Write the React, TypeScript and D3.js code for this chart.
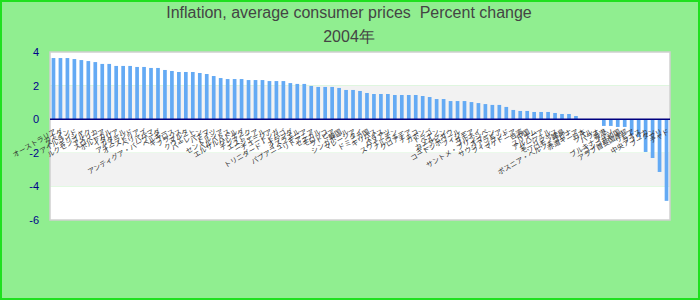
import React from "react";
import * as d3 from "d3";

const titleLine1 = "Inflation, average consumer prices  Percent change";
const titleLine2 = "2004年";

const categories: string[] = [
  "オーストラリア", "カナダ", "スペイン", "アイルランド", "ギリシャ", "ルクセンブルク", "アメリカ", "スロベニア", "ポルトガル", "イタリア",
  "カタール", "アイスランド", "オーストリア", "ベリーズ", "バハマ", "アンティグア・バーブーダ", "ベルギー", "キプロス", "フランス", "マルタ",
  "クウェート", "バーレーン", "パナマ", "ドイツ", "セントルシア", "バルバドス", "エルサルバドル", "グレナダ", "デンマーク", "エストニア",
  "ニジェール", "チュニジア", "トンガ", "トリニダード・トバゴ", "オランダ", "イスラエル", "パプアニューギニア", "リトアニア", "セネガル", "モロッコ",
  "ラトビア", "韓国", "シンガポール", "マレーシア", "タイ", "ドミニカ国", "キリバス", "スイス", "バヌアツ", "スウェーデン",
  "ノルウェー", "クロアチア", "チェコ", "ガボン", "トーゴ", "ベナン", "カメルーン", "ギニアビサウ", "コートジボワール", "フィジー",
  "サモア", "ブルネイ", "サントメ・プリンシペ", "オマーン", "サウジアラビア", "フィンランド", "マケドニア", "台湾", "中国", "スリナム",
  "アルバニア", "セーシェル", "モーリシャス", "ソロモン諸島", "ボスニア・ヘルツェゴビナ", "赤道ギニア", "日本", "ツバル", "パラオ", "香港",
  "ブルキナファソ", "コンゴ共和国", "アラブ首長国連邦", "リビア", "ラオス", "中央アフリカ", "ブータン", "マリ", "チャド",
];

const values: number[] = [
  3.64, 3.64, 3.64, 3.58, 3.52, 3.46, 3.4, 3.29, 3.29, 3.17,
  3.17, 3.17, 3.11, 3.11, 3.05, 3.05, 2.93, 2.87, 2.81, 2.81,
  2.81, 2.75, 2.69, 2.57, 2.45, 2.39, 2.39, 2.39, 2.33, 2.33,
  2.33, 2.27, 2.27, 2.27, 2.15, 2.1, 2.1, 1.98, 1.92, 1.92,
  1.92, 1.86, 1.74, 1.74, 1.68, 1.56, 1.5, 1.5, 1.5, 1.44,
  1.44, 1.44, 1.44, 1.38, 1.32, 1.2, 1.2, 1.08, 1.08, 1.08,
  1.02, 0.96, 0.9, 0.85, 0.85, 0.73, 0.55, 0.49, 0.49, 0.43,
  0.43, 0.43, 0.37, 0.31, 0.31, 0.19, 0, 0, 0, -0.4,
  -0.4, -0.46, -0.46, -0.94, -1.06, -1.95, -2.31, -3.14, -4.86,
];

const yTicks: number[] = [4, 2, 0, -2, -4, -6];

export default function App() {
  const W = 700;
  const H = 300;
  const left = 50, right = 670, top = 52, bottom = 220;

  const x = d3
    .scaleBand<string>()
    .domain(categories.map((c, i) => String(i)))
    .range([left, right])
    .paddingInner(0.47)
    .paddingOuter(0.235);
  const y = d3.scaleLinear().domain([-6, 4]).range([bottom, top]);

  const bands: [number, number, string][] = [];
  for (let i = 0; i < yTicks.length - 1; i++) {
    bands.push([yTicks[i], yTicks[i + 1], i % 2 === 1 ? "#f2f2f2" : "#ffffff"]);
  }

  return (
    <svg
      width={W}
      height={H}
      style={{ position: "absolute", left: 0, top: 0 }}
      fontFamily="'Liberation Sans', Arial, sans-serif"
    >
      <rect x={1} y={1} width={W - 2} height={H - 2} fill="#90ee90" stroke="#1fe01f" strokeWidth={2} />
      <text x={349} y={18.3} textAnchor="middle" fontSize={16} fill="#444" style={{ whiteSpace: "pre" }}>
        {titleLine1}
      </text>
      <text x={349} y={42.3} textAnchor="middle" fontSize={16} fill="#444">
        {titleLine2}
      </text>

      {bands.map(([a, b, c], i) => (
        <rect key={i} x={left} y={y(a)} width={right - left} height={y(b) - y(a)} fill={c} />
      ))}
      <rect x={left} y={top} width={right - left} height={bottom - top} fill="none" stroke="#d0d0d0" strokeWidth={1.5} />

      {yTicks.map((t) => (
        <text key={t} x={39} y={y(t)} dy="0.36em" textAnchor="end" fontSize={11} fill="#00008b">
          {t}
        </text>
      ))}

      {values.map((v, i) => (
        <rect
          key={i}
          x={x(String(i))}
          y={y(Math.max(0, v))}
          width={x.bandwidth()}
          height={Math.abs(y(v) - y(0))}
          fill="#64aaf4"
        />
      ))}

      <line x1={left} x2={right} y1={y(0)} y2={y(0)} stroke="#000080" strokeWidth={1.5} />

      {categories.map((c, i) => {
        const cx = (x(String(i)) as number) + x.bandwidth() / 2 + 2;
        const cy = 131;
        return (
          <text
            key={i}
            x={cx}
            y={cy}
            dy="0.35em"
            textAnchor="end"
            fontSize={7}
            fontFamily="'Noto Sans CJK JP', sans-serif"
            fill="#333"
            transform={`rotate(-30 ${cx} ${cy})`}
          >
            {c}
          </text>
        );
      })}
    </svg>
  );
}
